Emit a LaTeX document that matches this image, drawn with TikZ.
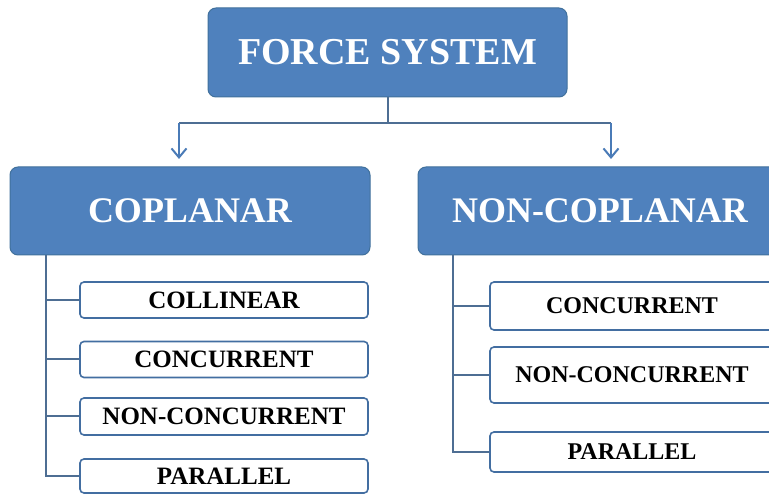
\documentclass[tikz,border=0pt]{standalone}
\usepackage{fontspec}
\setmainfont{Liberation Serif}
\usetikzlibrary{arrows.meta}
\definecolor{hdblue}{HTML}{4F81BD}
\definecolor{hdedge}{HTML}{41719C}
\definecolor{lnblue}{HTML}{4E6E93}
\definecolor{arblue}{HTML}{4A7BB7}
\tikzset{
  headbox/.style={rectangle, rounded corners=8pt, fill=hdblue, draw=hdedge, line width=1pt,
    text=white, font=\bfseries\fontsize{36}{40}\selectfont, inner sep=0pt},
  leafbox/.style={rectangle, rounded corners=4pt, fill=white, draw=hdblue!85!black, line width=1.6pt,
    text=black, inner sep=0pt},
  leaffontL/.style={font=\bfseries\fontsize{25}{28}\selectfont},
  leaffontR/.style={font=\bfseries\fontsize{24}{28}\selectfont},
  conn/.style={draw=lnblue, line width=2pt},
  arr/.style={draw=arblue, line width=2pt, -{Straight Barb[length=9pt,width=15pt,line width=2pt]}}
}
\begin{document}
\begin{tikzpicture}[x=1pt,y=-1pt]
\useasboundingbox (0,0) rectangle (769,494);
\clip (0,0) rectangle (769,494);
\fill[white] (0,0) rectangle (769,494);

% top
\node[headbox, minimum width=359pt, minimum height=89pt] (fs) at (387.5,52.5) {\fontsize{38}{42}\selectfont FORCE SYSTEM};
\node[headbox, minimum width=360pt, minimum height=88pt] (cop) at (190,211) {COPLANAR};
\node[headbox, minimum width=364pt, minimum height=88pt] (ncop) at (600,211) {NON-COPLANAR};

% left leaves
\node[leafbox, leaffontL, minimum width=288pt, minimum height=36pt] (l1) at (224,300) {COLLINEAR};
\node[leafbox, leaffontL, minimum width=288pt, minimum height=36pt] (l2) at (224,359.5) {CONCURRENT};
\node[leafbox, leaffontL, minimum width=288pt, minimum height=37pt] (l3) at (224,416.5) {NON-CONCURRENT};
\node[leafbox, leaffontL, minimum width=288pt, minimum height=34pt] (l4) at (224,476) {PARALLEL};

% right leaves
\node[leafbox, leaffontR, minimum width=284pt, minimum height=48pt] (r1) at (632,306) {CONCURRENT};
\node[leafbox, leaffontR, minimum width=284pt, minimum height=56pt] (r2) at (632,375) {NON-CONCURRENT};
\node[leafbox, leaffontR, minimum width=284pt, minimum height=40pt] (r3) at (632,452) {PARALLEL};

% top connectors
\coordinate (j) at (387.5,123);
\coordinate (jl) at (179,123);
\coordinate (jr) at (611,123);
\coordinate (al) at (179,159);
\coordinate (ar) at (611,159);
\draw[conn] (fs.south) -- (j);
\draw[conn] (jl) -- (jr);
\draw[arr] (jl) -- (al);
\draw[arr] (jr) -- (ar);

% left tree
\coordinate (lt) at (46,255);
\draw[conn] (lt) |- (l4.west);
\draw[conn] (46,300) -- (l1.west);
\draw[conn] (46,359.5) -- (l2.west);
\draw[conn] (46,416.5) -- (l3.west);

% right tree
\coordinate (rt) at (453,255);
\draw[conn] (rt) |- (r3.west);
\draw[conn] (453,306) -- (r1.west);
\draw[conn] (453,375) -- (r2.west);
\end{tikzpicture}
\end{document}
